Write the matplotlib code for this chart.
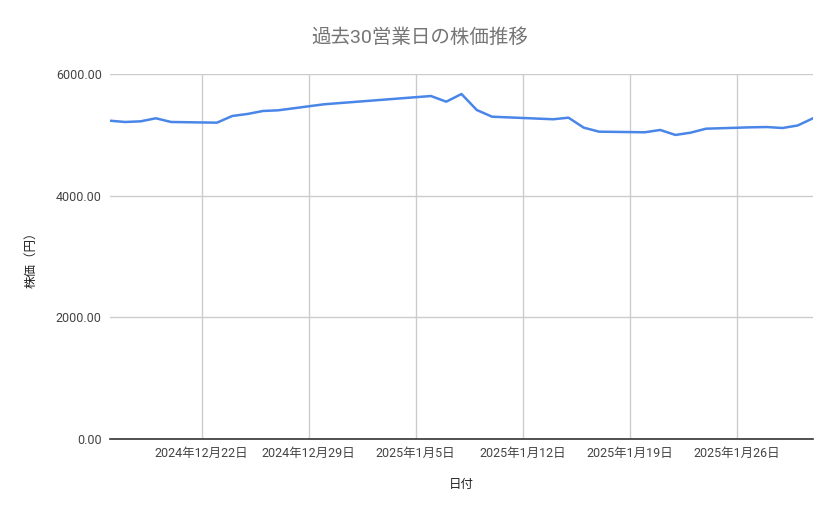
import pandas as pd
import numpy as np
import matplotlib
matplotlib.use("Agg")
import matplotlib.pyplot as plt
import matplotlib.dates as mdates
from matplotlib.ticker import FuncFormatter

plt.rcParams["font.family"] = ["Roboto", "Noto Sans CJK JP", "DejaVu Sans"]

# 過去30営業日 (東証)
dates = [
    "2024-12-16", "2024-12-17", "2024-12-18", "2024-12-19", "2024-12-20",
    "2024-12-23", "2024-12-24", "2024-12-25", "2024-12-26", "2024-12-27",
    "2024-12-30",
    "2025-01-06", "2025-01-07", "2025-01-08", "2025-01-09", "2025-01-10",
    "2025-01-14", "2025-01-15", "2025-01-16", "2025-01-17",
    "2025-01-20", "2025-01-21", "2025-01-22", "2025-01-23", "2025-01-24",
    "2025-01-27", "2025-01-28", "2025-01-29", "2025-01-30", "2025-01-31",
]
prices = [
    5232, 5211, 5222, 5272, 5211,
    5200, 5310, 5343, 5392, 5403,
    5502,
    5638, 5545, 5671, 5408, 5298,
    5256, 5282, 5118, 5052,
    5042, 5080, 4998, 5036, 5101,
    5124, 5128, 5112, 5154, 5272,
]
week_ticks = ["2024-12-22", "2024-12-29", "2025-01-05", "2025-01-12", "2025-01-19", "2025-01-26"]
y_ticks = [0, 2000, 4000, 6000]

df = pd.DataFrame({"date": pd.to_datetime(dates), "price": prices})

fig = plt.figure(figsize=(8.39, 5.19), dpi=100)
ax = fig.add_axes([110 / 839, 80 / 519, 703 / 839, 365 / 519])

ax.plot(df["date"], df["price"], color="#4a86e8", linewidth=1.8, solid_joinstyle="round")

ax.set_xlim(df["date"].min(), df["date"].max())
ax.set_ylim(0, 6000)
ax.set_yticks(y_ticks)
ax.yaxis.set_major_formatter(FuncFormatter(lambda v, p: f"{v:.2f}"))
ax.set_xticks(pd.to_datetime(week_ticks))
ax.xaxis.set_major_formatter(FuncFormatter(
    lambda v, p: (lambda d: f"{d.year}年{d.month}月{d.day}日")(mdates.num2date(v))))

ax.grid(True, color="#cccccc", linewidth=1)
ax.set_axisbelow(True)
for s in ["top", "right", "left"]:
    ax.spines[s].set_visible(False)
ax.spines["bottom"].set_color("#333333")
ax.spines["bottom"].set_linewidth(1.2)
ax.spines["bottom"].set_zorder(3)
ax.tick_params(axis="both", length=0, labelsize=9, labelcolor="#444444")
ax.tick_params(axis="x", pad=6)
ax.tick_params(axis="y", pad=6)

ax.set_xlabel("日付", fontsize=9, color="#222222", labelpad=13)
ax.set_ylabel("株価（円）", fontsize=9, color="#222222", labelpad=13)

fig.text(0.5, 1 - 38 / 519, "過去30営業日の株価推移", ha="center", va="center",
         fontsize=14, color="#757575")

fig.savefig("out.png", dpi=100)
